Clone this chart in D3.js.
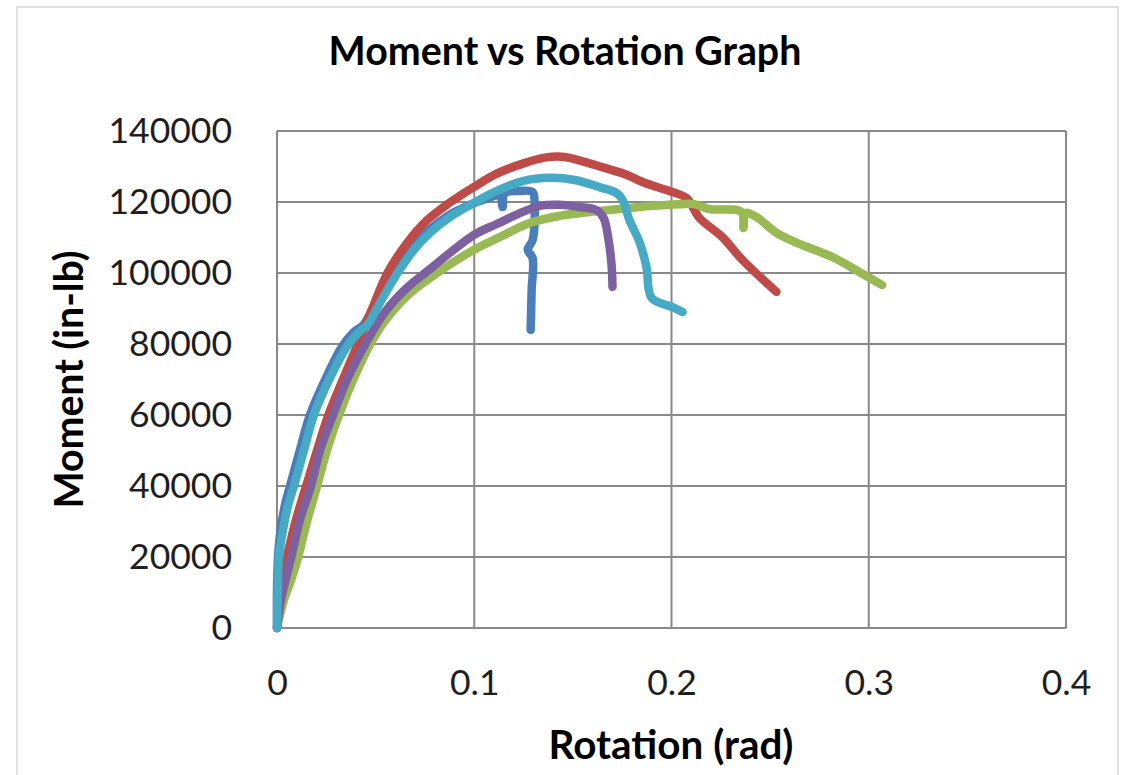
<!DOCTYPE html>
<html>
<head>
<meta charset="utf-8">
<script src="https://cdn.jsdelivr.net/npm/d3@7"></script>
<style>
  body { margin: 0; background: #fff; }
  svg { display: block; }
</style>
</head>
<body>
<svg id="chart" width="1130" height="775"></svg>
<script>
// Axis ticks
const xTicks = [0, 0.1, 0.2, 0.3, 0.4];
const yTicks = [0, 20000, 40000, 60000, 80000, 100000, 120000, 140000];

// Rotation (rad), Moment (in-lb) for each specimen
const series1 = [
  [0, 0], [0, 10700], [0.0005, 19700], [0.0018, 27500], [0.0040, 34500],
  [0.0066, 40000], [0.0116, 50100], [0.0167, 60000], [0.0248, 70400],
  [0.0329, 79200], [0.0385, 83100], [0.0441, 85600], [0.0501, 91600],
  [0.0587, 99700], [0.0673, 106500], [0.0754, 111300], [0.0866, 116100],
  [0.0977, 119200], [0.1078, 121200], [0.1129, 122000], [0.1144, 118600],
  [0.1154, 122500], [0.1230, 123100], [0.1296, 122800], [0.1306, 119200],
  [0.1296, 109300], [0.1271, 106500], [0.1296, 104200], [0.1291, 95200],
  [0.1286, 84000]
];
const series2 = [
  [0, 0], [0.0015, 7900], [0.0051, 20000], [0.0096, 30400], [0.0152, 40800],
  [0.0203, 50000], [0.0258, 59600], [0.0334, 70000], [0.0410, 80000],
  [0.0483, 90000], [0.0560, 100000], [0.0660, 108500], [0.0760, 114800],
  [0.0870, 119600], [0.0997, 124200], [0.1114, 128000], [0.1246, 130800],
  [0.1357, 132500], [0.1458, 132700], [0.1559, 131300], [0.1661, 129600],
  [0.1762, 127900], [0.1863, 125400], [0.1990, 123100], [0.2076, 121100],
  [0.2142, 115500], [0.2258, 110100], [0.2359, 103700], [0.2532, 94700]
];
const series3 = [
  [0, 0], [0.0015, 3700], [0.0035, 7900], [0.0071, 13500], [0.0106, 19700],
  [0.0147, 29000], [0.0203, 40000], [0.0253, 50100], [0.0314, 60000],
  [0.0390, 70400], [0.0476, 80300], [0.0547, 86500], [0.0658, 93500],
  [0.0775, 98600], [0.0997, 106500], [0.1129, 110100], [0.1281, 114100],
  [0.1433, 116100], [0.1585, 117200], [0.1737, 118000], [0.1889, 118900],
  [0.2041, 119400], [0.2116, 119400], [0.2192, 118000], [0.2354, 117200],
  [0.2365, 112700], [0.2375, 116900], [0.2430, 115800], [0.2532, 111300],
  [0.2648, 108200], [0.2815, 104500], [0.2952, 100300], [0.3068, 96600]
];
const series4 = [
  [0, 0], [0.0020, 7900], [0.0071, 19700], [0.0116, 30400], [0.0172, 40000],
  [0.0218, 50100], [0.0284, 60000], [0.0359, 70400], [0.0451, 80300],
  [0.0547, 89000], [0.0658, 95800], [0.0775, 101100], [0.0997, 110700],
  [0.1114, 113800], [0.1246, 117200], [0.1332, 118900], [0.1433, 119200],
  [0.1534, 118600], [0.1620, 117700], [0.1656, 115500], [0.1681, 109300],
  [0.1696, 102300], [0.1701, 96100]
];
const series5 = [
  [0, 0], [0.0003, 7900], [0.0010, 20000], [0.0030, 27500], [0.0056, 34500],
  [0.0086, 40000], [0.0137, 50100], [0.0187, 60000], [0.0268, 70400],
  [0.0354, 79200], [0.0410, 83100], [0.0461, 85600], [0.0522, 91600],
  [0.0608, 99700], [0.0694, 106500], [0.0775, 111300], [0.0886, 116100],
  [0.0997, 119700], [0.1114, 123100], [0.1246, 125900], [0.1382, 126800],
  [0.1509, 126200], [0.1635, 124200], [0.1722, 122500], [0.1752, 120600],
  [0.1787, 114900], [0.1838, 108700], [0.1873, 101700], [0.1899, 93000],
  [0.2005, 90400], [0.2056, 89000]
];
const seriesList = [series1, series2, series3, series4, series5];
const seriesColors = ["#4A7EBB", "#BE4B48", "#98B954", "#7D60A0", "#46AAC5"];

const titleText = "Moment vs Rotation Graph";
const xTitle = "Rotation (rad)";
const yTitle = "Moment (in-lb)";

const svg = d3.select("#chart");
const plot = { left: 277, right: 1066, top: 131, bottom: 628 };

const x = d3.scaleLinear().domain([0, 0.4]).range([plot.left, plot.right]);
const y = d3.scaleLinear().domain([0, 140000]).range([plot.bottom, plot.top]);

// Chart frame
svg.append("rect")
  .attr("x", 17).attr("y", 7).attr("width", 1101).attr("height", 820)
  .attr("fill", "#fff").attr("stroke", "#d9d9d9").attr("stroke-width", 1.5);

// Gridlines
const grid = svg.append("g").attr("stroke", "#898989").attr("stroke-width", 2);
grid.selectAll("line.h").data(yTicks).join("line")
  .attr("class", "h")
  .attr("x1", plot.left).attr("x2", plot.right)
  .attr("y1", d => y(d)).attr("y2", d => y(d));
grid.selectAll("line.v").data(xTicks).join("line")
  .attr("class", "v")
  .attr("y1", plot.top).attr("y2", plot.bottom)
  .attr("x1", d => x(d)).attr("x2", d => x(d));

// Axes (labels only)
const tickFont = "Lato, 'Open Sans', sans-serif";
const yAxis = svg.append("g")
  .attr("transform", `translate(${plot.left},0)`)
  .call(d3.axisLeft(y).tickValues(yTicks).tickFormat(d3.format("d")).tickSize(0).tickPadding(45));
const xAxis = svg.append("g")
  .attr("transform", `translate(0,${plot.bottom})`)
  .call(d3.axisBottom(x).tickValues(xTicks).tickFormat(d => d === 0 ? "0" : d3.format(".1f")(d)).tickSize(0).tickPadding(42));
[xAxis, yAxis].forEach(a => {
  a.select(".domain").remove();
  a.selectAll("text")
    .attr("font-family", tickFont)
    .attr("font-size", 35.5)
    .attr("fill", "#1e1e1e");
});

// Series lines
const line = d3.line()
  .x(d => x(d[0]))
  .y(d => y(d[1]))
  .curve(d3.curveCatmullRom.alpha(0.5));

svg.append("g").selectAll("path").data(seriesList).join("path")
  .attr("d", line)
  .attr("fill", "none")
  .attr("stroke", (d, i) => seriesColors[i])
  .attr("stroke-width", 8.5)
  .attr("stroke-linejoin", "round")
  .attr("stroke-linecap", "round");

// Titles, sized to their intended widths
function fitWidth(sel, target) {
  const w = sel.node().getComputedTextLength();
  const fs = parseFloat(sel.attr("font-size"));
  sel.attr("font-size", fs * target / w);
}
const boldFont = "Lato, 'Open Sans', sans-serif";

const title = svg.append("text")
  .attr("x", 565).attr("y", 65)
  .attr("text-anchor", "middle")
  .attr("font-family", boldFont).attr("font-weight", "bold")
  .attr("font-size", 36).attr("fill", "#000")
  .text(titleText);
fitWidth(title, 473);

const xt = svg.append("text")
  .attr("x", 671).attr("y", 759)
  .attr("text-anchor", "middle")
  .attr("font-family", boldFont).attr("font-weight", "bold")
  .attr("font-size", 36).attr("fill", "#000")
  .text(xTitle);
fitWidth(xt, 245);

const yt = svg.append("text")
  .attr("transform", `translate(83,${(plot.top + plot.bottom) / 2}) rotate(-90)`)
  .attr("text-anchor", "middle")
  .attr("font-family", boldFont).attr("font-weight", "bold")
  .attr("font-size", 36).attr("fill", "#000")
  .text(yTitle);
fitWidth(yt, 258);
</script>
</body>
</html>
